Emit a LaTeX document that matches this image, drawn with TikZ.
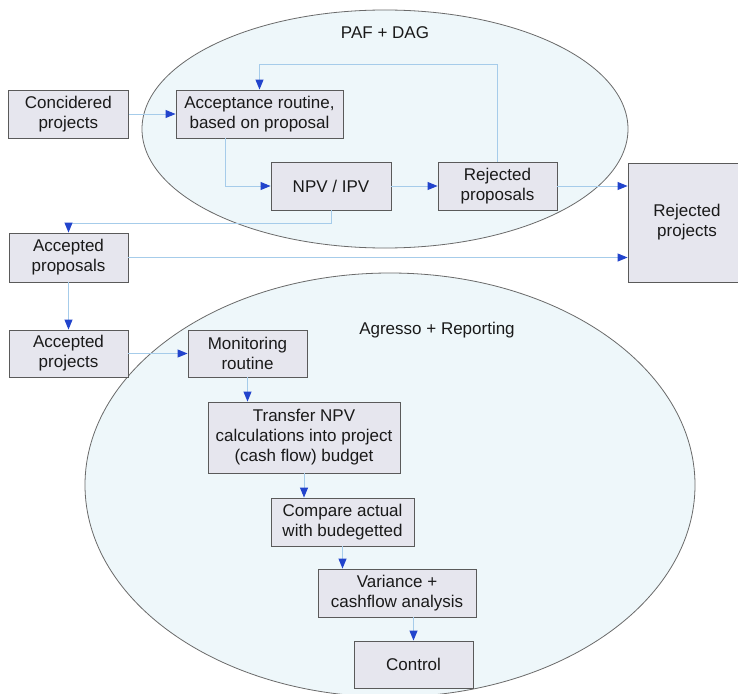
\documentclass[tikz,border=0pt]{standalone}
\usepackage{fontspec}
\setmainfont{Liberation Sans}
\usetikzlibrary{arrows.meta}
\definecolor{ellfill}{HTML}{EEF7FA}
\definecolor{ellline}{HTML}{6A6A6A}
\definecolor{boxfill}{HTML}{E6E6EE}
\definecolor{boxline}{HTML}{5A5A5A}
\definecolor{connline}{HTML}{A6CCEA}
\definecolor{tipblue}{HTML}{2244CC}
\definecolor{txt}{HTML}{1A1A1A}
\tikzset{
  procbox/.style={draw=boxline, fill=boxfill, line width=0.9pt, inner sep=0pt,
    align=center, text=txt, font=\fontsize{17}{20}\selectfont},
  conn/.style={draw=connline, line width=1pt,
    -{Triangle[length=10pt,width=8pt,color=tipblue]}},
  cloud/.style={draw=ellline, fill=ellfill, line width=0.8pt},
  title/.style={text=txt, font=\fontsize{17}{20}\selectfont}
}
\begin{document}
\begin{tikzpicture}[x=1pt,y=-1pt]
\useasboundingbox (0,0) rectangle (738,693);
\begin{scope}
\clip (0,0) rectangle (738,693);
\fill[white] (0,0) rectangle (738,693);
\draw[cloud] (385,129) ellipse [x radius=243, y radius=119];
\draw[cloud] (390,485) ellipse [x radius=305, y radius=212];
\node[title] (paf) at (385,33) {PAF + DAG};
\node[title] (agr) at (437,330) {Agresso + Reporting};

\node[procbox, minimum width=120, minimum height=48] (cons) at (68.3,114) {Concidered\\projects};
\node[procbox, minimum width=167, minimum height=48] (accept) at (259.5,114) {Acceptance routine,\\based on proposal};
\node[procbox, minimum width=120, minimum height=48] (npv) at (331,186) {NPV / IPV};
\node[procbox, minimum width=119, minimum height=48] (rejprop) at (497.5,186) {Rejected\\proposals};
\node[procbox, minimum width=118, minimum height=119] (rejproj) at (687,222.5) {Rejected\\projects};
\node[procbox, minimum width=119, minimum height=49] (accprop) at (68.5,257.5) {Accepted\\proposals};
\node[procbox, minimum width=119, minimum height=47] (accproj) at (68.5,353.5) {Accepted\\projects};
\node[procbox, minimum width=119, minimum height=47] (mon) at (247.5,353.5) {Monitoring\\routine};
\node[procbox, minimum width=192, minimum height=71] (transfer) at (304,437.5) {Transfer NPV\\calculations into project\\(cash flow) budget};
\node[procbox, minimum width=143, minimum height=48] (compare) at (342.5,522) {Compare actual\\with budegetted};
\node[procbox, minimum width=158, minimum height=48] (variance) at (397,593) {Variance +\\cashflow analysis};
\node[procbox, minimum width=119, minimum height=47] (control) at (413.5,664.5) {Control};

\draw[conn] (cons.east) -- (accept.west);
\draw[conn] (rejprop.north) -- ++(0,-97) -| (accept.north);
\draw[conn] ([xshift=-34.5pt]accept.south) |- (npv.west);
\draw[conn] (npv.east) -- (rejprop.west);
\draw[conn] (rejprop.east) -- (rejprop.east -| rejproj.west);
\draw[conn] (npv.south) -- ++(0,13) -| (accprop.north);
\draw[conn] (accprop.east) -- (accprop.east -| rejproj.west);
\draw[conn] (accprop.south) -- (accproj.north);
\draw[conn] (accproj.east) -- (mon.west);
\draw[conn] (mon.south) -- (mon.south |- transfer.north);
\draw[conn] (transfer.south) -- (transfer.south |- compare.north);
\draw[conn] (compare.south) -- (compare.south |- variance.north);
\draw[conn] (control.north |- variance.south) -- (control.north);
\end{scope}
\end{tikzpicture}
\end{document}
